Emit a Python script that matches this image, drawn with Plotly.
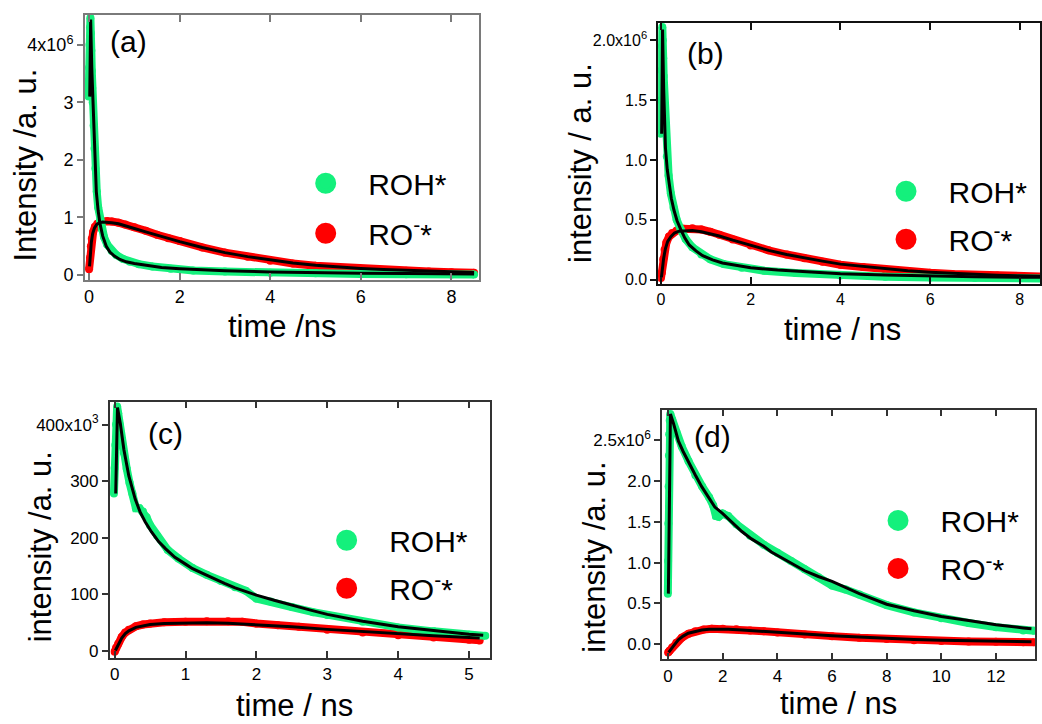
import plotly.graph_objects as go

W, H = 1042, 724
GREEN = '#14F07C'
RED = '#FF0000'
FONT = 'Liberation Sans, Arial, sans-serif'

# ---------------- Panel (a): intensity in 1e6 ----------------
a_roh_t = [-0.01, 0.0, 0.01, 0.02, 0.03, 0.04, 0.05, 0.06, 0.07, 0.08, 0.1, 0.12, 0.14, 0.17, 0.2,
           0.24, 0.28, 0.33, 0.4, 0.5, 0.6, 0.75, 0.9, 1.1, 1.4, 1.8, 2.3, 3.0, 4.0, 5.0, 6.0, 7.0, 8.0, 8.5]
a_roh_v = [3.10, 3.60, 4.00, 4.30, 4.47, 4.20, 3.90, 3.55, 3.25, 3.00, 2.60, 2.20, 1.85, 1.45, 1.18,
           0.95, 0.80, 0.66, 0.53, 0.42, 0.35, 0.28, 0.23, 0.19, 0.15, 0.11, 0.08, 0.06, 0.04, 0.03, 0.02, 0.015, 0.01, 0.01]
a_roh_fit_t = [0.015, 0.035, 0.06, 0.09, 0.125, 0.16, 0.2, 0.24, 0.3, 0.38, 0.46, 0.56, 0.68, 0.82, 1.0,
               1.3, 1.6, 2.0, 2.5, 3.0, 4.0, 5.0, 6.0, 7.0, 8.0, 8.5]
a_roh_fit_v = [3.10, 4.44, 3.60, 2.85, 2.05, 1.45, 1.12, 0.90, 0.68, 0.50, 0.40, 0.33, 0.27, 0.23, 0.20,
               0.16, 0.13, 0.11, 0.09, 0.075, 0.055, 0.04, 0.03, 0.025, 0.02, 0.02]
a_ro_t = [0.0, 0.02, 0.04, 0.06, 0.09, 0.13, 0.18, 0.24, 0.3, 0.4, 0.5, 0.65, 0.8, 1.0, 1.25, 1.5, 1.75,
          2.0, 2.5, 3.0, 3.5, 4.0, 4.5, 5.0, 5.5, 6.0, 6.5, 7.0, 7.5, 8.0, 8.5]
a_ro_v = [0.10, 0.30, 0.50, 0.63, 0.75, 0.84, 0.89, 0.92, 0.93, 0.94, 0.93, 0.91, 0.88, 0.83, 0.77, 0.70, 0.64,
          0.59, 0.48, 0.39, 0.32, 0.25, 0.20, 0.16, 0.135, 0.11, 0.09, 0.075, 0.062, 0.05, 0.04]
a_ro_fit_t = [0.01, 0.03, 0.05, 0.08, 0.12, 0.17, 0.23, 0.3, 0.4, 0.5, 0.65, 0.8, 1.0, 1.25, 1.5, 1.75,
              2.0, 2.5, 3.0, 3.5, 4.0, 4.5, 5.0, 5.5, 6.0, 6.5, 7.0, 7.5, 8.0, 8.5]
a_ro_fit_v = [0.15, 0.40, 0.57, 0.72, 0.82, 0.88, 0.91, 0.92, 0.92, 0.91, 0.89, 0.86, 0.81, 0.75, 0.69, 0.63,
              0.58, 0.48, 0.39, 0.32, 0.26, 0.21, 0.17, 0.14, 0.115, 0.095, 0.08, 0.065, 0.055, 0.045]

# ---------------- Panel (b): intensity in 1e6 ----------------
b_roh_t = [-0.01, 0.0, 0.01, 0.02, 0.03, 0.04, 0.05, 0.06, 0.08, 0.1, 0.13, 0.17, 0.22, 0.28, 0.35, 0.44,
           0.55, 0.7, 0.9, 1.1, 1.4, 1.8, 2.3, 3.0, 4.0, 5.0, 6.0, 7.0, 8.0, 8.5]
b_roh_v = [1.22, 1.50, 1.75, 1.95, 2.11, 2.00, 1.85, 1.70, 1.45, 1.22, 1.03, 0.87, 0.72, 0.60, 0.50, 0.42,
           0.34, 0.27, 0.21, 0.17, 0.13, 0.10, 0.075, 0.055, 0.035, 0.025, 0.018, 0.014, 0.011, 0.01]
b_roh_fit_t = [0.015, 0.035, 0.06, 0.1, 0.14, 0.18, 0.23, 0.29, 0.36, 0.44, 0.53, 0.63, 0.78, 0.93, 1.15,
               1.37, 1.65, 2.0, 2.6, 3.3, 4.0, 5.0, 6.0, 7.0, 8.0, 8.5]
b_roh_fit_v = [1.22, 2.09, 1.60, 1.10, 0.92, 0.80, 0.68, 0.58, 0.49, 0.42, 0.35, 0.29, 0.24, 0.20, 0.165,
               0.14, 0.12, 0.10, 0.08, 0.065, 0.05, 0.04, 0.03, 0.025, 0.02, 0.02]
b_ro_t = [0.0, 0.02, 0.05, 0.08, 0.12, 0.18, 0.25, 0.35, 0.5, 0.7, 0.9, 1.1, 1.3, 1.6, 2.0, 2.4, 2.8, 3.2,
          3.6, 4.0, 4.5, 5.0, 5.5, 6.0, 6.5, 7.0, 7.5, 8.0, 8.5]
b_ro_v = [0.015, 0.06, 0.17, 0.25, 0.31, 0.36, 0.39, 0.41, 0.425, 0.43, 0.42, 0.40, 0.375, 0.335, 0.285,
          0.245, 0.21, 0.18, 0.15, 0.125, 0.105, 0.085, 0.07, 0.058, 0.048, 0.04, 0.034, 0.03, 0.026]
b_ro_fit_t = [0.01, 0.03, 0.06, 0.1, 0.15, 0.22, 0.3, 0.4, 0.55, 0.7, 0.9, 1.1, 1.3, 1.6, 2.0, 2.4, 2.8,
              3.2, 3.6, 4.0, 4.5, 5.0, 5.5, 6.0, 6.5, 7.0, 7.5, 8.0, 8.5]
b_ro_fit_v = [0.02, 0.09, 0.18, 0.26, 0.32, 0.36, 0.39, 0.405, 0.41, 0.41, 0.40, 0.385, 0.365, 0.33, 0.285,
              0.245, 0.21, 0.18, 0.155, 0.13, 0.11, 0.09, 0.075, 0.063, 0.053, 0.045, 0.038, 0.033, 0.029]

# ---------------- Panel (c): intensity in 1e3 ----------------
c_roh_t = [-0.01, 0.0, 0.01, 0.02, 0.035, 0.05, 0.07, 0.1, 0.13, 0.17, 0.21, 0.25, 0.3, 0.35, 0.4, 0.45,
           0.5, 0.6, 0.75, 0.9, 1.1, 1.3, 1.5, 1.7, 1.85, 2.0, 2.2, 2.5, 2.8, 3.0, 3.5, 4.0, 4.5, 5.0, 5.23]
c_roh_v = [278, 323, 364, 400, 432, 420, 400, 372, 350, 322, 297, 278, 252, 252, 246, 236,
           222, 203, 178, 163, 146, 134, 123, 112, 106, 92, 87, 77, 68, 63, 51, 41, 34, 28, 26]
c_roh_fit_t = [0.015, 0.04, 0.08, 0.13, 0.2, 0.29, 0.36, 0.43, 0.52, 0.62, 0.72, 0.85, 1.0, 1.1, 1.25,
               1.4, 1.55, 1.7, 1.85, 2.0, 2.25, 2.5, 2.75, 3.0, 3.5, 4.0, 4.5, 5.0, 5.2]
c_roh_fit_v = [278, 430, 402, 356, 309, 268, 245, 228, 210, 193, 180, 165, 153, 145, 136,
               127, 119, 111, 104, 98, 89, 80, 72, 64, 52, 42, 35, 29, 27]
c_ro_t = [0.0, 0.02, 0.05, 0.1, 0.15, 0.2, 0.3, 0.4, 0.5, 0.7, 1.0, 1.3, 1.6, 1.8, 2.0, 2.3, 2.6, 3.0,
          3.5, 4.0, 4.5, 5.0, 5.15]
c_ro_v = [-2, 5, 12, 24, 32, 37, 43, 46, 48, 50, 51, 52, 52, 51, 48, 45, 42, 37, 32, 27, 23, 19, 18]
c_ro_fit_t = [0.01, 0.05, 0.1, 0.15, 0.2, 0.3, 0.4, 0.5, 0.7, 1.0, 1.3, 1.6, 2.0, 2.5, 3.0, 3.5, 4.0,
              4.5, 5.0, 5.15]
c_ro_fit_v = [0, 11, 22, 30, 35, 41, 44, 46, 48, 49, 49, 48.5, 46, 42, 37.5, 33.5, 29.5, 26, 23, 22]

# ---------------- Panel (d): intensity in 1e6 ----------------
d_roh_t = [-0.01, 0.0, 0.01, 0.02, 0.03, 0.04, 0.06, 0.08, 0.15, 0.3, 0.5, 0.75, 1.0, 1.25, 1.5, 1.65,
           1.75, 1.85, 2.0, 2.2, 2.5, 3.0, 3.5, 4.0, 4.5, 5.0, 5.5, 6.0, 6.5, 7.0, 8.0, 9.0, 10.0, 11.0,
           12.0, 13.0, 13.4]
d_roh_v = [0.62, 1.02, 1.48, 1.93, 2.31, 2.57, 2.74, 2.82, 2.75, 2.60, 2.42, 2.24, 2.07, 1.93, 1.80, 1.70,
           1.57, 1.56, 1.60, 1.57, 1.47, 1.33, 1.22, 1.12, 1.02, 0.92, 0.82, 0.72, 0.67, 0.61, 0.48, 0.39,
           0.32, 0.26, 0.21, 0.17, 0.165]
d_roh_fit_t = [0.01, 0.085, 0.2, 0.375, 0.55, 0.74, 1.0, 1.23, 1.5, 1.71, 2.0, 2.32, 2.7, 3.05, 3.5, 3.78,
               4.2, 4.63, 5.0, 5.5, 6.0, 7.0, 8.0, 9.0, 10.0, 11.0, 12.0, 13.0, 13.3]
d_roh_fit_v = [0.62, 2.82, 2.70, 2.49, 2.36, 2.23, 2.07, 1.93, 1.78, 1.68, 1.60, 1.50, 1.38, 1.29, 1.20, 1.13,
               1.05, 0.97, 0.90, 0.83, 0.77, 0.62, 0.49, 0.41, 0.34, 0.29, 0.24, 0.20, 0.19]
d_ro_t = [0.0, 0.05, 0.15, 0.3, 0.5, 0.75, 1.0, 1.3, 1.6, 2.0, 2.5, 3.0, 3.5, 4.0, 5.0, 6.0, 7.0, 8.0,
          9.0, 10.0, 11.0, 12.0, 13.0, 13.4]
d_ro_v = [-0.10, -0.08, -0.04, 0.02, 0.08, 0.13, 0.16, 0.18, 0.19, 0.19, 0.185, 0.17, 0.16, 0.145, 0.12,
          0.10, 0.08, 0.065, 0.05, 0.04, 0.035, 0.03, 0.025, 0.025]
d_ro_fit_t = [0.02, 0.1, 0.2, 0.375, 0.55, 0.74, 1.0, 1.23, 1.5, 1.8, 2.2, 2.7, 3.3, 4.0, 5.0, 6.0, 7.0,
              8.0, 9.0, 10.0, 11.0, 12.0, 13.0, 13.3]
d_ro_fit_v = [-0.10, -0.06, -0.02, 0.055, 0.10, 0.135, 0.16, 0.175, 0.183, 0.186, 0.184, 0.176, 0.165,
              0.15, 0.125, 0.105, 0.087, 0.072, 0.06, 0.05, 0.042, 0.035, 0.03, 0.03]

# ---------------- tick labels ----------------
a_xticks = [0, 2, 4, 6, 8]
a_yticks = [0, 1, 2, 3, 4]
a_yticktext = ['0', '1', '2', '3', '4x10<sup>6</sup>']
b_xticks = [0, 2, 4, 6, 8]
b_yticks = [0, 0.5, 1.0, 1.5, 2.0]
b_yticktext = ['0.0', '0.5', '1.0', '1.5', '2.0x10<sup>6</sup>']
c_xticks = [0, 1, 2, 3, 4, 5]
c_yticks = [0, 100, 200, 300, 400]
c_yticktext = ['0', '100', '200', '300', '400x10<sup>3</sup>']
d_xticks = [0, 2, 4, 6, 8, 10, 12]
d_yticks = [0, 0.5, 1.0, 1.5, 2.0, 2.5]
d_yticktext = ['0.0', '0.5', '1.0', '1.5', '2.0', '2.5x10<sup>6</sup>']

panel_labels = ['(a)', '(b)', '(c)', '(d)']
x_titles = ['time /ns', 'time / ns', 'time / ns', 'time / ns']
y_titles = ['Intensity /a. u.', 'intensity / a. u.', 'intensity /a. u.', 'intensity /a. u.']
legend_names = ['ROH*', 'RO<sup>-</sup>*']

fig = go.Figure()


def px_x(p):
    return p / W


def px_y(p):
    return 1 - p / H


series = [
    (a_roh_t, a_roh_v, a_roh_fit_t, a_roh_fit_v, a_ro_t, a_ro_v, a_ro_fit_t, a_ro_fit_v),
    (b_roh_t, b_roh_v, b_roh_fit_t, b_roh_fit_v, b_ro_t, b_ro_v, b_ro_fit_t, b_ro_fit_v),
    (c_roh_t, c_roh_v, c_roh_fit_t, c_roh_fit_v, c_ro_t, c_ro_v, c_ro_fit_t, c_ro_fit_v),
    (d_roh_t, d_roh_v, d_roh_fit_t, d_roh_fit_v, d_ro_t, d_ro_v, d_ro_fit_t, d_ro_fit_v),
]

# layout geometry (pixels): box = (left, top, right, bottom)
geo = [
    dict(box=(83, 15, 478, 282), xr=[-0.095, 8.6], yr=[-0.08, 4.52], xt=a_xticks, yt=a_yticks,
         ytx=a_yticktext, lc='#7a7a7a', fs=18, lab=(106, 42), xtit=(281, 329), ytit=(24, 166),
         leg=(326, 210), gap=8),
    dict(box=(658, 23, 1041, 286), xr=[-0.064, 8.45], yr=[-0.033, 2.146], xt=b_xticks, yt=b_yticks,
         ytx=b_yticktext, lc='#111111', fs=16, lab=(685, 54), xtit=(843, 332), ytit=(580, 164),
         leg=(908, 217), gap=6),
    dict(box=(108, 405, 489, 663), xr=[-0.07, 5.29], yr=[-12.3, 440.6], xt=c_xticks, yt=c_yticks,
         ytx=c_yticktext, lc='#333333', fs=17, lab=(144, 437), xtit=(293, 711), ytit=(39, 551),
         leg=(347, 569), gap=6),
    dict(box=(662, 413, 1036, 665), xr=[-0.22, 13.43], yr=[-0.186, 2.873], xt=d_xticks, yt=d_yticks,
         ytx=d_yticktext, lc='#333333', fs=17, lab=(692, 440), xtit=(839, 709), ytit=(594, 562),
         leg=(900, 549), gap=6),
]

annotations = []
layout = {}
for i, (g, s) in enumerate(zip(geo, series)):
    n = i + 1
    sfx = '' if n == 1 else str(n)
    xa, ya = 'x' + sfx, 'y' + sfx
    leg = 'legend' + sfx
    roh_t, roh_v, rohf_t, rohf_v, ro_t, ro_v, rof_t, rof_v = s
    # measured data (thick dotted bands)
    for t, v, c in [(ro_t, ro_v, RED), (roh_t, roh_v, GREEN)]:
        fig.add_trace(go.Scatter(x=t, y=v, mode='lines+markers', line=dict(color=c, width=8),
                                 marker=dict(color=c, size=8), xaxis=xa, yaxis=ya,
                                 showlegend=False, hoverinfo='skip'))
    # fits
    for t, v in [(rohf_t, rohf_v), (rof_t, rof_v)]:
        fig.add_trace(go.Scatter(x=t, y=v, mode='lines', line=dict(color='black', width=3),
                                 xaxis=xa, yaxis=ya, showlegend=False, hoverinfo='skip'))
    # legend entries
    for k, (name, c) in enumerate(zip(legend_names, [GREEN, RED])):
        fig.add_trace(go.Scatter(x=[None], y=[None], mode='markers', name=name,
                                 marker=dict(color=c, size=16, line=dict(color=c, width=5)),
                                 xaxis=xa, yaxis=ya, legend=leg, legendgroup=f'g{n}{k}',
                                 showlegend=True))
    x0, y0, x1, y1 = g['box']
    lc = g['lc']
    tickfont = dict(size=g['fs'], family=FONT, color='black')
    layout['xaxis' + sfx] = dict(domain=[px_x(x0), px_x(x1)], range=g['xr'], anchor=ya,
                                 tickvals=g['xt'], ticks='inside', ticklen=7, tickwidth=1.5,
                                 tickcolor=lc, showline=True, linecolor=lc, linewidth=1.5,
                                 mirror='ticks', showgrid=False, zeroline=False, tickfont=tickfont,
                                 fixedrange=True)
    layout['yaxis' + sfx] = dict(domain=[px_y(y1), px_y(y0)], range=g['yr'], anchor=xa,
                                 tickvals=g['yt'], ticktext=g['ytx'], ticks='outside', ticklen=6,
                                 tickwidth=1.5, tickcolor=lc, showline=True, linecolor=lc,
                                 linewidth=1.5, mirror=True, showgrid=False, zeroline=False,
                                 tickfont=tickfont, fixedrange=True)
    layout['yaxis' + str(n + 4)] = dict(overlaying=ya, side='right', anchor=xa, range=g['yr'],
                                        tickvals=g['yt'], ticks='inside', ticklen=7, tickwidth=1.5,
                                        tickcolor=lc, showticklabels=False, showline=False,
                                        showgrid=False, zeroline=False, fixedrange=True)
    lx, ly = g['leg']
    layout[leg] = dict(x=px_x(lx - 44), y=px_y(ly), xanchor='left', yanchor='middle',
                       font=dict(size=30, family=FONT, color='black'), itemwidth=75,
                       tracegroupgap=g['gap'], bgcolor='rgba(0,0,0,0)', borderwidth=0,
                       traceorder='grouped')
    annotations.append(dict(text=panel_labels[i], x=px_x(g['lab'][0]), y=px_y(g['lab'][1]),
                            xref='paper', yref='paper', xanchor='left', yanchor='middle',
                            showarrow=False, font=dict(size=30, family=FONT, color='black')))
    annotations.append(dict(text=x_titles[i], x=px_x(g['xtit'][0]), y=px_y(g['xtit'][1]),
                            xref='paper', yref='paper', xanchor='center', yanchor='middle',
                            showarrow=False, font=dict(size=31, family=FONT, color='black')))
    annotations.append(dict(text=y_titles[i], x=px_x(g['ytit'][0]), y=px_y(g['ytit'][1]),
                            xref='paper', yref='paper', xanchor='center', yanchor='middle',
                            textangle=-90, showarrow=False,
                            font=dict(size=31, family=FONT, color='black')))

fig.update_layout(width=W, height=H, margin=dict(l=0, r=0, t=0, b=0), paper_bgcolor='white',
                  plot_bgcolor='white', annotations=annotations, **layout)

fig.write_html("out.html")
